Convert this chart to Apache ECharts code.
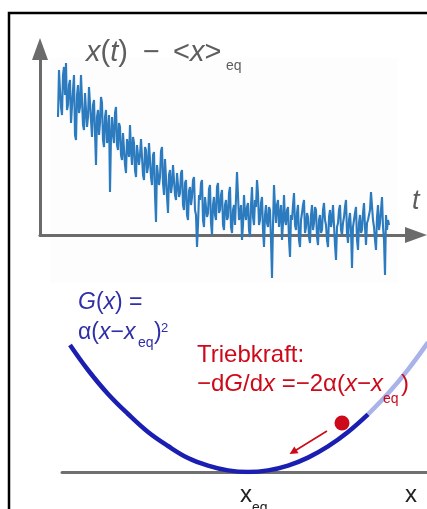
<!DOCTYPE html>
<html>
<head>
<meta charset="utf-8">
<script src="https://cdn.jsdelivr.net/npm/echarts@6/dist/echarts.min.js"></script>
<style>
html,body{margin:0;padding:0;background:#fff;}
#chart{width:427px;height:509px;}
</style>
</head>
<body>
<div id="chart"></div>
<script>
// ---- top panel: relaxation trace x(t) - <x>eq (height above the t axis, px-like units) ----
const tStart = 18;
const tStep = 1;
const traceValues = [
  118, 165, 145, 128, 120, 160, 168, 140, 172, 125, 130, 150, 155, 112, 110, 145, 160, 100, 95, 140,
  150, 122, 128, 160, 158, 110, 105, 142, 140, 108, 118, 148, 150, 115, 98, 130, 135, 102, 70, 118,
  125, 100, 112, 138, 132, 95, 88, 118, 125, 92, 100, 120, 43, 98, 118, 100, 92, 122, 128, 90,
  85, 112, 108, 80, 75, 102, 100, 70, 62, 96, 95, 78, 110, 85, 70, 98, 92, 65, 58, 90,
  88, 70, 80, 96, 95, 60, 55, 88, 85, 62, 68, 92, 90, 58, 50, 80, 83, 40, 13, 70,
  72, 50, 58, 84, 88, 52, 40, 76, 76, 38, 22, 60, 65, 42, 50, 70, 72, 40, 35, 62,
  60, 38, 42, 62, 65, 30, 25, 52, 55, 20, 15, 44, 48, 30, 38, 55, 58, 25, 20, -12,
  10, 40, 35, 52, 55, 15, 8, 38, 40, 18, 22, 46, 50, 12, 0, 30, 38, 20, 15, 48,
  52, 22, 25, 40, 45, 10, 5, 30, 35, 15, 18, 42, 48, 8, 2, 25, 30, 10, 12, 63,
  40, 15, 20, 30, -5, 10, 40, 22, 15, 28, 32, 5, -2, 30, 48, 18, 10, 35, 28, 55,
  42, 10, 15, 32, 38, 5, -12, 20, 30, 12, 8, 28, 25, -5, -43, 10, 50, 28, 12, 30,
  35, 8, 20, 30, -5, 12, 40, 15, 10, 25, 28, -5, -22, 20, 15, 30, 42, 10, 5, 22,
  30, -5, -12, 15, 22, 30, 35, 2, 8, 22, 18, -2, -8, 20, 30, 5, 12, 28, 25, -2,
  -10, 15, 20, 2, 5, 25, 32, 15, 10, -5, -12, 18, 25, 8, 15, 30, 28, -10, -25, 8,
  12, 25, 30, 5, 0, 12, 18, 28, 35, 2, -8, 15, 22, 5, -33, 8, 15, 22, 28, -5,
  -15, 12, 20, 2, 5, 22, 32, 8, -10, 12, 15, 20, 25, 43, 43, 15, 8, -5, -15, 18,
  30, 5, 12, 25, 38, 8, -5, -40, 20, 5, 15, 10
];

// ---- bottom panel: free energy G(x) = alpha (x - xeq)^2 ----
const gX      = [-1.78, -1.6, -1.4, -1.2, -1.0, -0.8, -0.6, -0.4, -0.2, 0, 0.2, 0.4, 0.6, 0.8, 1.0, 1.2];
const gDark   = [1.27, 1.02, 0.78, 0.58, 0.40, 0.26, 0.14, 0.064, 0.016, 0, 0.016, 0.064, 0.144, 0.256, 0.40, 0.576];
const gLightX = [1.2, 1.4, 1.6, 1.8];
const gLight  = [0.576, 0.784, 1.024, 1.296];
const ballPos = [0.94, 0.49];
const forceArrow = [[0.79, 0.41], [0.45, 0.20]];

const GRAY = '#6b6b6b';
const TXT_GRAY = '#5e5e5e';
const BLUE = '#1a1fb2';
const LABEL_BLUE = '#2f2fa8';
const RED = '#cc0a1a';
const FONT = '"Liberation Sans", Arial, sans-serif';

const traceData = traceValues.map((v, i) => [tStart + i * tStep, v]);
const darkData = gX.map((x, i) => [x, gDark[i]]);
const lightData = gLightX.map((x, i) => [x, gLight[i]]);

function txt(x, y, text, size, color, rich, extra) {
  const style = Object.assign({
    x: x, y: y, text: text, fill: color,
    font: size + 'px ' + FONT,
    verticalAlign: 'middle', align: 'left'
  }, extra || {});
  if (rich) {
    const r = {};
    Object.keys(rich).forEach(k => {
      r[k] = Object.assign({fontSize: size, fontFamily: FONT, color: color}, rich[k]);
    });
    style.rich = r;
  }
  return {type: 'text', z: 50, style: style};
}
const it = {fontStyle: 'italic'};
const nm = {fontStyle: 'normal'};

const chart = echarts.init(document.getElementById('chart'), null, {renderer: 'canvas'});
chart.setOption({
  animation: false,
  backgroundColor: '#ffffff',
  grid: [
    {left: 40, top: 49, right: 11, bottom: 274},
    {left: 62, top: 312, right: 0, bottom: 37}
  ],
  xAxis: [
    {
      gridIndex: 0, type: 'value', min: 0, max: 376,
      axisLine: {show: true, onZero: false, symbol: ['none', 'triangle'], symbolSize: [16, 22],
                 lineStyle: {color: GRAY, width: 3}},
      axisTick: {show: false}, axisLabel: {show: false}, splitLine: {show: false}
    },
    {
      gridIndex: 1, type: 'value', min: -1.86, max: 1.79,
      axisLine: {show: true, onZero: false, lineStyle: {color: '#707070', width: 3}},
      axisTick: {show: false}, axisLabel: {show: false}, splitLine: {show: false}
    }
  ],
  yAxis: [
    {
      gridIndex: 0, type: 'value', min: 0, max: 186,
      axisLine: {show: true, onZero: false, symbol: ['none', 'triangle'], symbolSize: [16, 22],
                 lineStyle: {color: GRAY, width: 3}},
      axisTick: {show: false}, axisLabel: {show: false}, splitLine: {show: false}
    },
    {
      gridIndex: 1, type: 'value', min: 0, max: 1.6, show: false
    }
  ],
  series: [
    {
      type: 'line', xAxisIndex: 0, yAxisIndex: 0, data: traceData,
      showSymbol: false, clip: false, z: 3,
      lineStyle: {color: '#2c7bbf', width: 2.1}
    },
    {
      type: 'line', xAxisIndex: 1, yAxisIndex: 1, data: lightData,
      showSymbol: false, smooth: 0.4, z: 3,
      lineStyle: {color: '#a9b3ea', width: 4.5}
    },
    {
      type: 'line', xAxisIndex: 1, yAxisIndex: 1, data: darkData,
      showSymbol: false, smooth: 0.4, z: 4,
      lineStyle: {color: BLUE, width: 4.5}
    },
    {
      type: 'lines', coordinateSystem: 'cartesian2d', xAxisIndex: 1, yAxisIndex: 1,
      symbol: ['none', 'triangle'], symbolSize: 8, z: 5,
      lineStyle: {color: RED, width: 1.6, opacity: 1},
      data: [{coords: forceArrow}]
    },
    {
      type: 'scatter', xAxisIndex: 1, yAxisIndex: 1, data: [ballPos],
      symbolSize: 15, z: 6, itemStyle: {color: RED, opacity: 1}
    }
  ],
  graphic: [
    {type: 'rect', z: -10, shape: {x: 50, y: 58, width: 348, height: 225}, style: {fill: '#fdfdfd'}},
    {type: 'polyline', z: 60, shape: {points: [[9, 509], [9, 13], [427, 13]]},
     style: {stroke: '#000', lineWidth: 2.5, fill: null}},
    // title of top panel
    txt(86, 53, '{i|x}{n|(}{i|t}{n|)}', 29, TXT_GRAY, {i: it, n: nm}),
    txt(143, 53, '\u2212', 29, TXT_GRAY),
    txt(173, 53, '{n|<}{i|x}{n|>}', 29, TXT_GRAY, {i: it, n: nm}),
    txt(226, 66, 'eq', 14, TXT_GRAY),
    txt(412, 201, 't', 27, TXT_GRAY, null, {fontStyle: 'italic', font: 'italic 27px ' + FONT}),
    // G(x) label
    txt(78, 303, '{i|G}{n|(}{i|x}{n|) =}', 23, LABEL_BLUE, {i: it, n: nm}),
    txt(78, 333, '{n|\u03b1(}{i|x}{n|\u2212}{i|x}', 23, LABEL_BLUE, {i: it, n: nm}),
    txt(138, 343, 'eq', 14, LABEL_BLUE),
    txt(154, 333, ')', 23, LABEL_BLUE),
    txt(161, 328, '2', 13, LABEL_BLUE),
    // driving force label
    txt(197, 355, 'Triebkraft:', 24, RED),
    txt(197, 384, '{n|\u2212d}{i|G}{n|/d}{i|x}{n| =\u22122\u03b1(}{i|x}{n|\u2212}{i|x}', 24, RED, {i: it, n: nm}),
    txt(383, 399, 'eq', 14, RED),
    txt(401, 384, ')', 24, RED),
    // x axis labels of bottom panel
    txt(240, 495, 'x', 24, '#222'),
    txt(252, 508, 'eq', 14, '#222'),
    txt(405, 495, 'x', 24, '#222')
  ]
});
</script>
</body>
</html>
